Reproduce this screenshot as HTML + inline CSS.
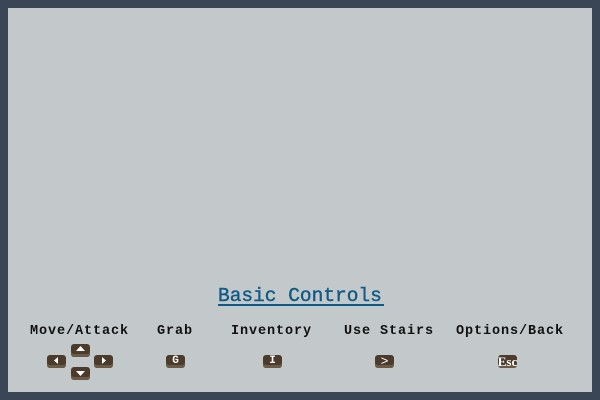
<!DOCTYPE html>
<html><head><style>
body{margin:0;width:600px;height:400px;background:#3a4656;position:relative;overflow:hidden}
#in{position:absolute;left:8px;top:8px;width:584px;height:384px;background:#c3c9ca}
.t{position:absolute;font-family:"Liberation Mono",monospace;font-weight:bold;white-space:nowrap}
.title{left:218px;top:285px;font-size:19.5px;color:#0f5a86;font-weight:normal;-webkit-text-stroke:0.4px #0f5a86}
.ul{position:absolute;left:218px;top:304px;width:166px;height:2px;background:#0f5a86}
.lb{font-size:13.5px;color:#111;top:324px;letter-spacing:0.9px}
.k{position:absolute;width:19px;height:13px;background:#4a3b2c;border-radius:3px;box-shadow:inset 0 -3px 0 #6b5a45;color:#fff;font-family:"Liberation Mono",monospace;font-weight:bold;font-size:11px;text-align:center;line-height:13px}
</style></head><body><div id="in"></div>
<div class="t title">Basic Controls</div><div class="ul"></div>
<div class="t lb" style="left:30px">Move/Attack</div>
<div class="t lb" style="left:157px">Grab</div>
<div class="t lb" style="left:231px">Inventory</div>
<div class="t lb" style="left:344px">Use Stairs</div>
<div class="t lb" style="left:456px">Options/Back</div>
<div class="k" style="left:47px;top:355px"><svg width="19" height="11"><polygon points="7,5.5 11,2 11,9" fill="#fff"/></svg></div>
<div class="k" style="left:71px;top:344px"><svg width="19" height="11"><polygon points="9.5,2 14,7 5,7" fill="#fff"/></svg></div>
<div class="k" style="left:71px;top:367px"><svg width="19" height="11"><polygon points="9.5,9 14,4 5,4" fill="#fff"/></svg></div>
<div class="k" style="left:94px;top:355px"><svg width="19" height="11"><polygon points="12,5.5 8,2 8,9" fill="#fff"/></svg></div>
<div class="k" style="left:166px;top:355px">G</div>
<div class="k" style="left:263px;top:355px">I</div>
<div class="k" style="left:375px;top:355px;font-weight:normal;font-size:13px">&gt;</div>
<div class="k" style="left:498px;top:355px;overflow:visible"><span style="position:absolute;left:-6px;top:0;width:31px;text-align:center;font-family:'Liberation Serif',serif;font-size:13px;line-height:13px">Esc</span></div>
</body></html>
